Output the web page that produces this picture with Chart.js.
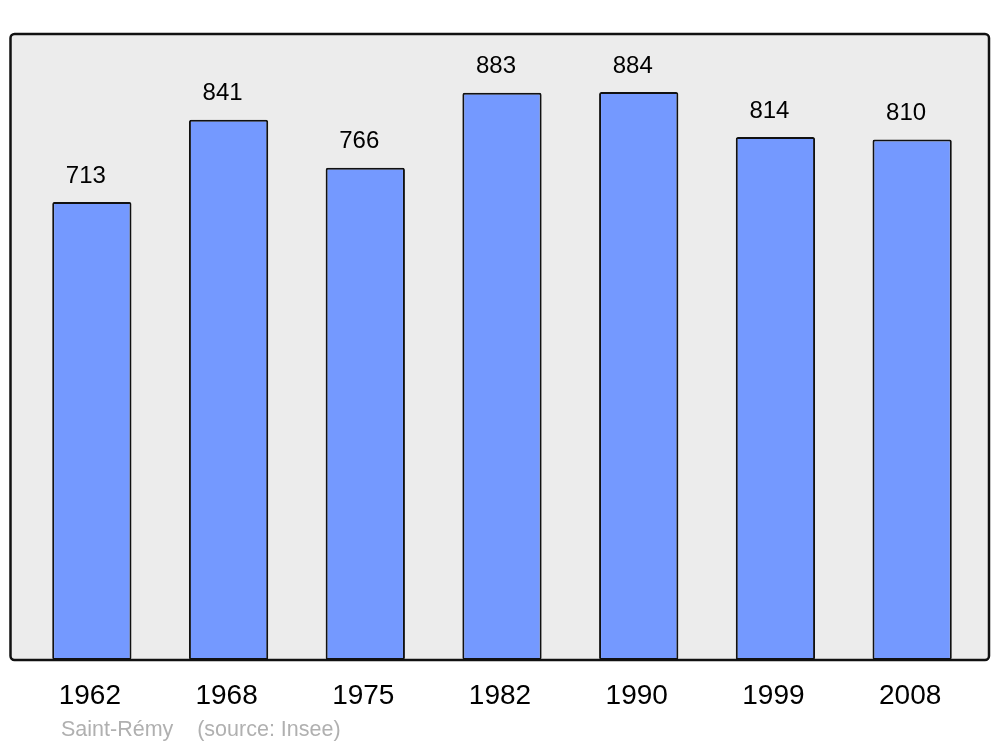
<!DOCTYPE html>
<html>
<head>
<meta charset="utf-8">
<script src="https://cdn.jsdelivr.net/npm/chart.js@4/dist/chart.umd.min.js"></script>
<style>
  html, body { margin: 0; padding: 0; background: #ffffff; }
  #wrap { position: relative; width: 1000px; height: 747px; }
  #note {
    position: absolute; left: 61px; top: 717px;
    font-family: "Liberation Sans", Arial, sans-serif; font-size: 21.5px; color: #b0b0b0;
    white-space: pre;
  }
</style>
</head>
<body>
<div id="wrap">
  <canvas id="chart" width="1000" height="747"></canvas>
  <div id="note">Saint-Rémy    (source: Insee)</div>
</div>
<script>
const years = ["1962", "1968", "1975", "1982", "1990", "1999", "2008"];
const population = [713, 841, 766, 883, 884, 814, 810];

const ctx = document.getElementById("chart").getContext("2d");

// gray frame behind the bars, a bit wider than the bar area
const framePlugin = {
    id: "frame",
    beforeDraw(chart) {
        const a = chart.chartArea;
        const c = chart.ctx;
        c.save();
        c.beginPath();
        c.roundRect(a.left - 13, a.top, a.right - a.left + 21.5, a.bottom - a.top, 4);
        c.fillStyle = "#ececec";
        c.fill();
        c.restore();
    },
    afterDatasetsDraw(chart) {
        const a = chart.chartArea;
        const c = chart.ctx;
        c.save();
        c.beginPath();
        c.roundRect(a.left - 13, a.top, a.right - a.left + 21.5, a.bottom - a.top, 4);
        c.lineWidth = 2.5;
        c.strokeStyle = "#111111";
        c.stroke();

        // value labels above bars
        c.font = "24px 'Liberation Sans', Arial, sans-serif";
        c.fillStyle = "#000000";
        c.textAlign = "center";
        c.textBaseline = "middle";
        chart.getDatasetMeta(0).data.forEach((bar, i) => {
            c.fillText(String(population[i]), bar.x - 6, bar.y - 26);
        });
        c.restore();
    }
};

const chart = new Chart(ctx, {
    type: "bar",
    data: {
        labels: years,
        datasets: [
            {
                data: population,
                backgroundColor: "#7499ff",
                borderColor: "#111111",
                borderWidth: 2,
                borderSkipped: false,
                borderRadius: 2,
                categoryPercentage: 1,
                barPercentage: 0.58
            }
        ]
    },
    options: {
        responsive: false,
        animation: false,
        layout: {
            padding: { left: 23.5, right: 19.5, top: 34, bottom: 0 }
        },
        scales: {
            x: {
                grid: { display: false, drawTicks: false },
                border: { display: false },
                ticks: {
                    color: "#000000",
                    padding: 19,
                    labelOffset: -2,
                    font: { family: "'Liberation Sans', Arial, sans-serif", size: 28 }
                },
                afterFit(scale) {
                    scale.height = 87;
                }
            },
            y: {
                display: false,
                min: 0,
                max: 974.3
            }
        },
        plugins: {
            legend: { display: false },
            tooltip: { enabled: false }
        }
    },
    plugins: [framePlugin]
});
</script>
</body>
</html>
